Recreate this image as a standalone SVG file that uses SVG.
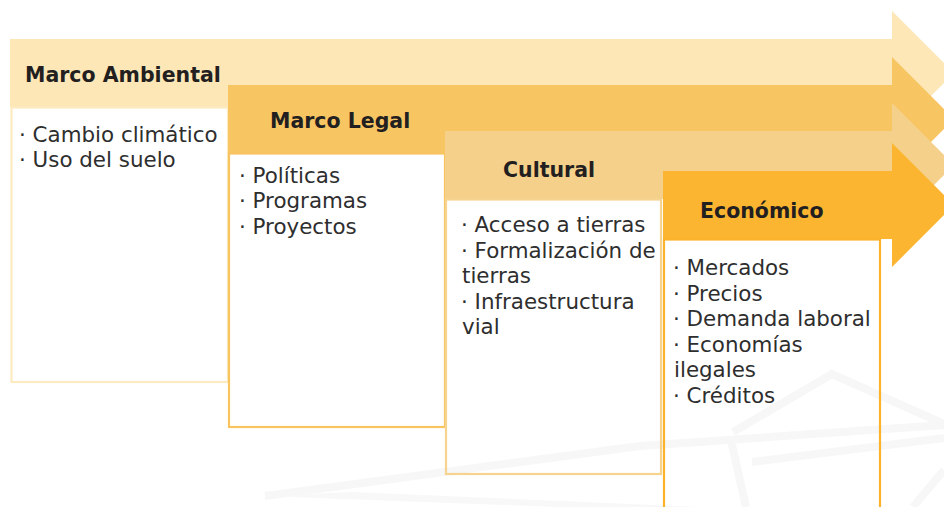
<svg xmlns="http://www.w3.org/2000/svg" width="944" height="507" viewBox="0 0 944 507">
<style>
.title{font-family:"DejaVu Sans","Liberation Sans",sans-serif;font-weight:bold;font-size:20.5px;fill:#231F20}
.body{font-family:"DejaVu Sans","Liberation Sans",sans-serif;font-size:21.4px;fill:#2e2e2e}
.box{fill:none;stroke-width:2.2}
.wm{fill:none;stroke:#F7F7F7;stroke-width:8;stroke-linejoin:miter}
</style>
<rect width="944" height="507" fill="#FFFFFF"/>
<g id="watermark">
<polyline class="wm" points="265,496 640,446 944,425"/>
<polygon points="265,496 352,492 700,507 560,507" fill="#F8F8F8"/>
<polyline class="wm" points="733,432 832,374 944,424"/>
<line class="wm" x1="731" y1="440" x2="746" y2="507" stroke-width="10"/>
<line class="wm" x1="752" y1="462" x2="944" y2="438" stroke-width="6"/>
<line class="wm" x1="913" y1="507" x2="944" y2="470"/>
</g>
<g id="connectors"></g>
<g id="marco-ambiental">
<path d="M10,39 H892 V11 L954,73 L892,135 V107 H10 Z" fill="#FDE7B6"/>
<rect class="box" x="11.5" y="107.5" width="216.5" height="274.5" stroke="#FDEAC0"/>
<text class="title" x="25" y="82">Marco Ambiental</text>
<text class="body" x="19" y="142">· Cambio climático</text>
<text class="body" x="19" y="167">· Uso del suelo</text>
</g>
<g id="marco-legal">
<path d="M228,85 H892 V57 L954,119 L892,181 V153 H228 Z" fill="#F8C563"/>
<rect class="box" x="229" y="153.5" width="216" height="273.5" stroke="#F8C460"/>
<text class="title" x="270" y="128">Marco Legal</text>
<text class="body" x="239" y="183">· Políticas</text>
<text class="body" x="239" y="208">· Programas</text>
<text class="body" x="239" y="233.5">· Proyectos</text>
</g>
<g id="cultural">
<path d="M445,131 H892 V103 L954,165 L892,227 V199 H445 Z" fill="#F5D08A"/>
<rect class="box" x="446" y="199.5" width="215" height="274.5" stroke="#F6D490"/>
<text class="title" x="503" y="177">Cultural</text>
<text class="body" x="461" y="232">· Acceso a tierras</text>
<text class="body" x="461" y="257.5">· Formalización de</text>
<text class="body" x="462" y="283">tierras</text>
<text class="body" x="461" y="308.5">· Infraestructura</text>
<text class="body" x="462" y="334">vial</text>
</g>
<g id="economico">
<path d="M663,171 H892 V143 L954,205 L892,267 V239 H663 Z" fill="#FBB530"/>
<rect class="box" x="664" y="239.5" width="216" height="280" stroke="#FBB22C"/>
<text class="title" x="700" y="218">Económico</text>
<text class="body" x="673" y="275">· Mercados</text>
<text class="body" x="673" y="300.5">· Precios</text>
<text class="body" x="673" y="326">· Demanda laboral</text>
<text class="body" x="673" y="351.5">· Economías</text>
<text class="body" x="674" y="377">ilegales</text>
<text class="body" x="673" y="402.5">· Créditos</text>
</g>
</svg>
